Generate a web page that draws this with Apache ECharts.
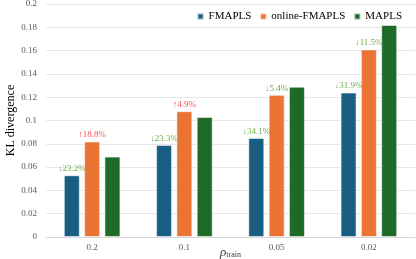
<!DOCTYPE html>
<html><head><meta charset="utf-8">
<script src="https://cdn.jsdelivr.net/npm/echarts@6/dist/echarts.min.js"></script>
<style>html,body{margin:0;padding:0;background:#fff}#c{width:416px;height:259px}</style>
</head><body><div id="c"></div>
<script>
const categories = ['0.2', '0.1', '0.05', '0.02'];
const fmapls = [0.053, 0.079, 0.085, 0.124];
const onlineFmapls = [0.082, 0.108, 0.122, 0.161];
const mapls = [0.069, 0.103, 0.129, 0.182];
const fmaplsLabels = ['↓23.2%', '↓23.3%', '↓34.1%', '↓31.9%'];
const onlineLabels = ['↑18.8%', '↑4.9%', '↓5.4%', '↓11.5%'];
const yTicks = [0, 0.02, 0.04, 0.06, 0.08, 0.1, 0.12, 0.14, 0.16, 0.18, 0.2];

const GREEN = '#70ad47', RED = '#ff4d4d';
const font = '"Liberation Serif", "Times New Roman", serif';
const labelFor = arr => ({
  show: true, position: 'top', distance: 2, fontFamily: font, fontSize: 9,
  formatter: p => arr[p.dataIndex]
});
function mkData(vals, labels) {
  return vals.map((v, i) => ({
    value: v,
    label: { color: labels[i].startsWith('↑') ? RED : GREEN }
  }));
}
const chart = echarts.init(document.getElementById('c'), null, {renderer: 'canvas'});
const itemBorder = {borderColor: 'rgba(255,255,255,0.55)', borderWidth: 1};
chart.setOption({
  animation: false,
  textStyle: {fontFamily: font},
  legend: {
    top: 6, right: 9, itemWidth: 6, itemHeight: 6, itemGap: 8,
    icon: 'rect',
    textStyle: {fontFamily: font, fontSize: 11, color: '#000'},
    data: ['FMAPLS', 'online-FMAPLS', 'MAPLS']
  },
  grid: {left: 46, right: 1, top: 4, bottom: 22, containLabel: false, outerBoundsMode: 'none'},
  xAxis: {
    type: 'category', data: categories,
    axisLine: {lineStyle: {color: '#d9d9d9'}},
    axisTick: {show: false},
    axisLabel: {fontFamily: font, fontSize: 9, color: '#595959', margin: 6},
    name: '{i|ρ}{s|train}', nameLocation: 'middle', nameGap: 9, nameMoveOverlap: false,
    nameTextStyle: {
      rich: {
        i: {fontFamily: font, fontStyle: 'italic', fontSize: 13, color: '#404040'},
        s: {fontFamily: font, fontSize: 8, color: '#404040', verticalAlign: 'bottom', padding: [5, 0, 0, 0]}
      }
    }
  },
  yAxis: {
    type: 'value', min: 0, max: 0.2, interval: 0.02,
    axisLine: {show: false}, axisTick: {show: false},
    splitLine: {lineStyle: {color: '#e6e6e6'}},
    axisLabel: {fontFamily: font, fontSize: 9, color: '#595959', margin: 9,
      formatter: v => { const t = yTicks.find(x => Math.abs(x - v) < 1e-9); return t === undefined ? '' : String(+t.toFixed(2)); }},
    name: 'KL divergence', nameLocation: 'middle', nameGap: 29, nameMoveOverlap: false,
    nameTextStyle: {fontFamily: font, fontSize: 12, color: '#000'}
  },
  series: [
    {name: 'FMAPLS', type: 'bar', barWidth: 16, barGap: '27%',
     itemStyle: Object.assign({color: '#1b5e84'}, itemBorder),
     label: labelFor(fmaplsLabels), data: mkData(fmapls, fmaplsLabels)},
    {name: 'online-FMAPLS', type: 'bar', barWidth: 16, barGap: '27%',
     itemStyle: Object.assign({color: '#ea7434'}, itemBorder),
     label: labelFor(onlineLabels), data: mkData(onlineFmapls, onlineLabels)},
    {name: 'MAPLS', type: 'bar', barWidth: 16, barGap: '27%',
     itemStyle: Object.assign({color: '#1d6b27'}, itemBorder),
     data: mapls}
  ]
});
</script></body></html>
